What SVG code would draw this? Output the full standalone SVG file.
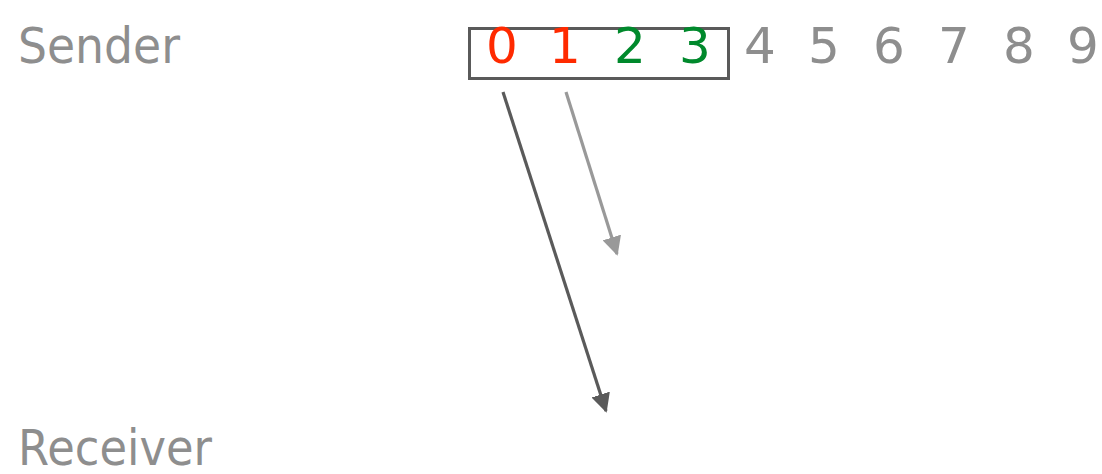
<svg xmlns="http://www.w3.org/2000/svg" width="1102" height="474" viewBox="0 0 1102 474">
<style>
text{font-family:"DejaVu Sans","Liberation Sans",sans-serif;font-size:50px;fill:#8e8e8e}
.d{text-anchor:middle}
.r{fill:#ff2a00}
.g{fill:#00892c}
</style>
<defs>
<marker id="ad" viewBox="0 0 10 10" refX="9" refY="5" markerWidth="6" markerHeight="6" markerUnits="strokeWidth" orient="auto"><path d="M0,0L10,5L0,10z" fill="#5a5a5a"/></marker>
<marker id="ag" viewBox="0 0 10 10" refX="9" refY="5" markerWidth="6" markerHeight="6" markerUnits="strokeWidth" orient="auto"><path d="M0,0L10,5L0,10z" fill="#999"/></marker>
</defs>
<g id="sender"><text x="18" y="63" textLength="162" lengthAdjust="spacingAndGlyphs">Sender</text></g>
<g id="receiver"><text x="18" y="465" textLength="194" lengthAdjust="spacingAndGlyphs">Receiver</text></g>
<g id="window"><rect x="469.5" y="28.5" width="259" height="50" fill="none" stroke="#5a5a5a" stroke-width="3"/></g>
<g id="seq">
<text class="d r" x="502" y="63">0</text>
<text class="d r" x="565" y="63">1</text>
<text class="d g" x="630" y="63">2</text>
<text class="d g" x="695" y="63">3</text>
<text class="d" x="760" y="63">4</text>
<text class="d" x="824" y="63">5</text>
<text class="d" x="889" y="63">6</text>
<text class="d" x="954" y="63">7</text>
<text class="d" x="1019" y="63">8</text>
<text class="d" x="1083" y="63">9</text>
</g>
<g id="connectors">
<line x1="503" y1="92" x2="606" y2="411" stroke="#5a5a5a" stroke-width="3.2" marker-end="url(#ad)"/>
<line x1="566" y1="92" x2="617" y2="254" stroke="#999" stroke-width="3.2" marker-end="url(#ag)"/>
</g>
</svg>
